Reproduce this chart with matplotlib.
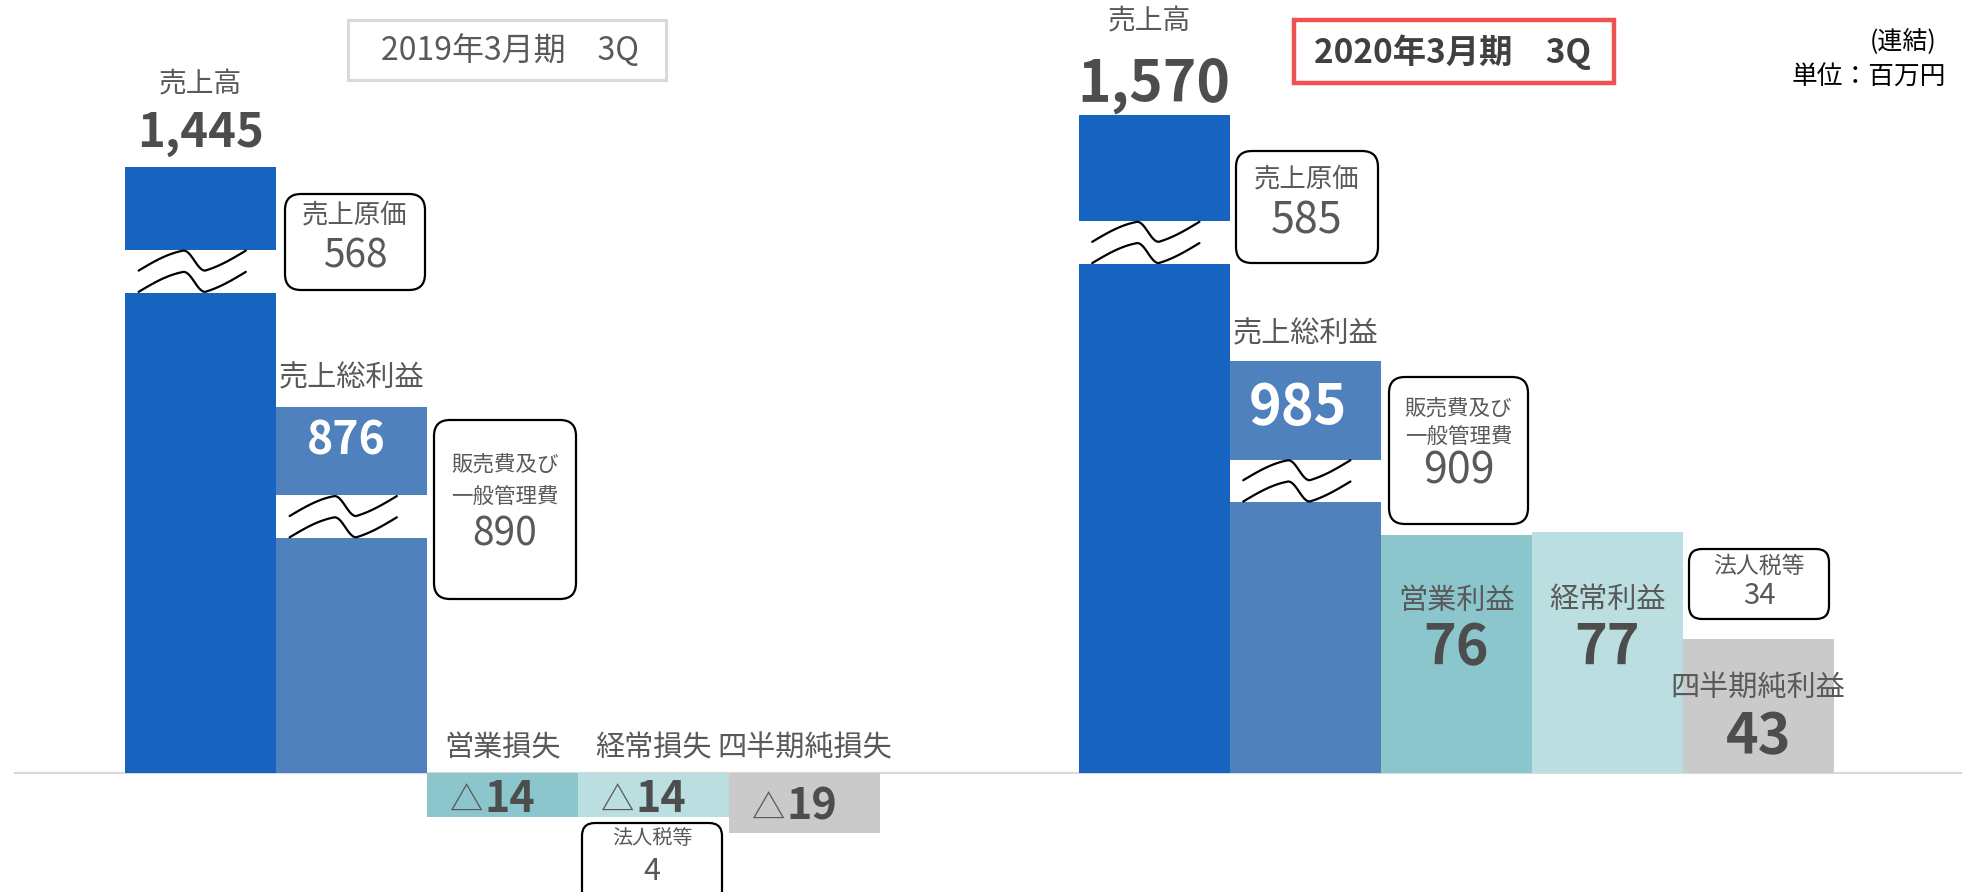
import numpy as np
import matplotlib.pyplot as plt
from matplotlib.patches import FancyBboxPatch, Rectangle

plt.rcParams['font.family'] = ['Noto Sans CJK JP', 'DejaVu Sans']

# figures in 百万円
items_2019 = ['売上高', '売上総利益', '営業損失', '経常損失', '四半期純損失']
values_2019 = [1445, 876, -14, -14, -19]
items_2020 = ['売上高', '売上総利益', '営業利益', '経常利益', '四半期純利益']
values_2020 = [1570, 985, 76, 77, 43]
cost_of_sales = [568, 585]
sga_expenses = [890, 909]
income_taxes = [4, 34]
periods = ['2019年3月期　3Q', '2020年3月期　3Q']

bar_colors = ['#1764c0', '#4f81bd', '#8bc6cd', '#bbdee1', '#cacaca']
text_gray = '#595959'
num_gray = '#4d4d4d'

# broken axis: small amounts keep full height, the big ones get squeezed
knots_val = [-400, 0, 80, 876, 2500]
knots_px = [-1000, 0, 200, 293, 838.7]

def fwd(v):
    return np.interp(v, knots_val, knots_px)

def inv(p):
    return np.interp(p, knots_px, knots_val)

def fmt(v):
    return f'{abs(v):,}'

fig = plt.figure(figsize=(19.62, 8.92), dpi=100)
ax = fig.add_axes([0, 0, 1, 1])
ax.set_yscale('function', functions=(fwd, inv))
ax.set_xlim(-1.328, 11.665)
ax.set_ylim(inv(-95), inv(618))
ax.axis('off')

gap = 6.315
x19 = np.arange(5)
x20 = np.arange(5) + gap

ax.axhline(0, xmin=15 / 1962, color='#d9d9d9', lw=1.5, zorder=0)
ax.bar(x19, values_2019, width=1, color=bar_colors, zorder=2)
ax.bar(x20, values_2020, width=1, color=bar_colors, zorder=2)


def draw_break(x, v, drop, band=34):
    top = fwd(v) - drop
    ax.bar(x, inv(top) - inv(top - band), bottom=inv(top - band), width=1,
           color='white', zorder=3)
    t = np.linspace(0, 1, 120)
    ua = t / 0.42
    ub = (t - 0.42) / 0.2
    uc = (t - 0.62) / 0.38
    s = np.where(t < 0.42, 0.4 * ua + 0.6 * np.sin(np.pi / 2 * ua),
                 np.where(t < 0.62, 0.5 + 0.5 * np.cos(np.pi * ub),
                          0.6 * uc + 0.4 * (1 - np.cos(np.pi / 2 * uc))))
    xs = x - 0.5 + 0.09 + 0.71 * t
    for off in (0.5, 17.5):
        ys = top - off - 16 * (1 - s)
        ax.plot(xs, inv(ys), color='black', lw=1.6, zorder=4,
                solid_capstyle='round')


draw_break(x19[0], values_2019[0], 66)
draw_break(x19[1], values_2019[1], 71)
draw_break(x20[0], values_2020[0], 85)
draw_break(x20[1], values_2020[1], 79)


def note(x, y, s, dy, size, weight='normal', color=text_gray, dx=0, va='center'):
    ax.annotate(s, (x, y), xytext=(dx, dy), textcoords='offset points',
                ha='center', va=va, fontsize=size, fontweight=weight,
                color=color, zorder=5)


def loss(x, v, tri_dx, num_dx):
    # thin triangle mark followed by the bold amount
    note(x, v / 2, '△', -12, 24, dx=tri_dx, va='baseline')
    note(x, v / 2, fmt(v), -12, 31, 'bold', num_gray, dx=num_dx, va='baseline')


# 2019 panel
note(x19[0], values_2019[0], items_2019[0], 60, 20)
note(x19[0], values_2019[0], fmt(values_2019[0]), 25, 34, 'bold', num_gray)
note(x19[1], values_2019[1], items_2019[1], 20, 21)
note(x19[1], values_2019[1], fmt(values_2019[1]), -25, 32, 'bold', 'white', dx=-3.6)
for i in range(2, 5):
    note(x19[i], 0, items_2019[i], 18, 21)
    loss(x19[i], values_2019[i], -26, 5)

# 2020 panel
note(x20[0], values_2020[0], items_2020[0], 67, 20, dx=-3.6)
note(x20[0], values_2020[0], fmt(values_2020[0]), 21.6, 41, 'bold', num_gray)
note(x20[1], values_2020[1], items_2020[1], 19, 21)
note(x20[1], values_2020[1], fmt(values_2020[1]), -34, 40, 'bold', 'white', dx=-5.4)
for i, (dl, dn) in zip(range(2, 5), [(-47, -81), (-49, -83), (-36, -71)]):
    note(x20[i], values_2020[i], items_2020[i], dl, 21)
    note(x20[i], values_2020[i], fmt(values_2020[i]), dn, 40, 'bold', num_gray)

# overlay in pixel units for the call-out boxes and headers
lay = fig.add_axes([0, 0, 1, 1], zorder=3)
lay.set_xlim(0, 1962)
lay.set_ylim(892, 0)
lay.axis('off')


def callout(x0, y0, x1, y1, lines, r=16):
    lay.add_patch(FancyBboxPatch((x0, y0), x1 - x0, y1 - y0,
                                 boxstyle=f'round,pad=0,rounding_size={r}',
                                 fc='white', ec='black', lw=1.6))
    for s, y, size in lines:
        lay.text((x0 + x1) / 2, y, s, ha='center', va='center',
                 fontsize=size, color=text_gray)


callout(285, 194, 425, 290, [('売上原価', 215, 19), (fmt(cost_of_sales[0]), 257, 28)])
callout(434, 420, 576, 599, [('販売費及び', 465, 15.5), ('一般管理費', 497, 15.5),
                             (fmt(sga_expenses[0]), 534, 28)])
callout(582, 823, 722, 915, [('法人税等', 838, 14.5), (fmt(income_taxes[0]), 872, 22)], r=13)

callout(1236, 151, 1378, 263, [('売上原価', 179, 19), (fmt(cost_of_sales[1]), 222, 31)])
callout(1389, 377, 1528, 524, [('販売費及び', 409, 15.5), ('一般管理費', 437, 15.5),
                               (fmt(sga_expenses[1]), 471, 31)])
callout(1689, 549, 1829, 619, [('法人税等', 566, 16.5), (fmt(income_taxes[1]), 596, 21)], r=13)

lay.add_patch(Rectangle((348, 20), 318, 60, fill=False, ec='#d9d9d9', lw=2.2))
lay.text(510, 51, periods[0], ha='center', va='center', fontsize=23, color=text_gray)
lay.add_patch(Rectangle((1294, 20), 320, 63, fill=False, ec='#f05252', lw=3.2))
lay.text(1452, 52, periods[1], ha='center', va='center', fontsize=24,
         fontweight='bold', color='#404040')

lay.text(1937, 41, '(連結)', ha='right', va='center', fontsize=18, color='black')
lay.text(1946, 78, '単位：百万円', ha='right', va='center', fontsize=18.5, color='black')

plt.savefig('out.png', dpi=100)
